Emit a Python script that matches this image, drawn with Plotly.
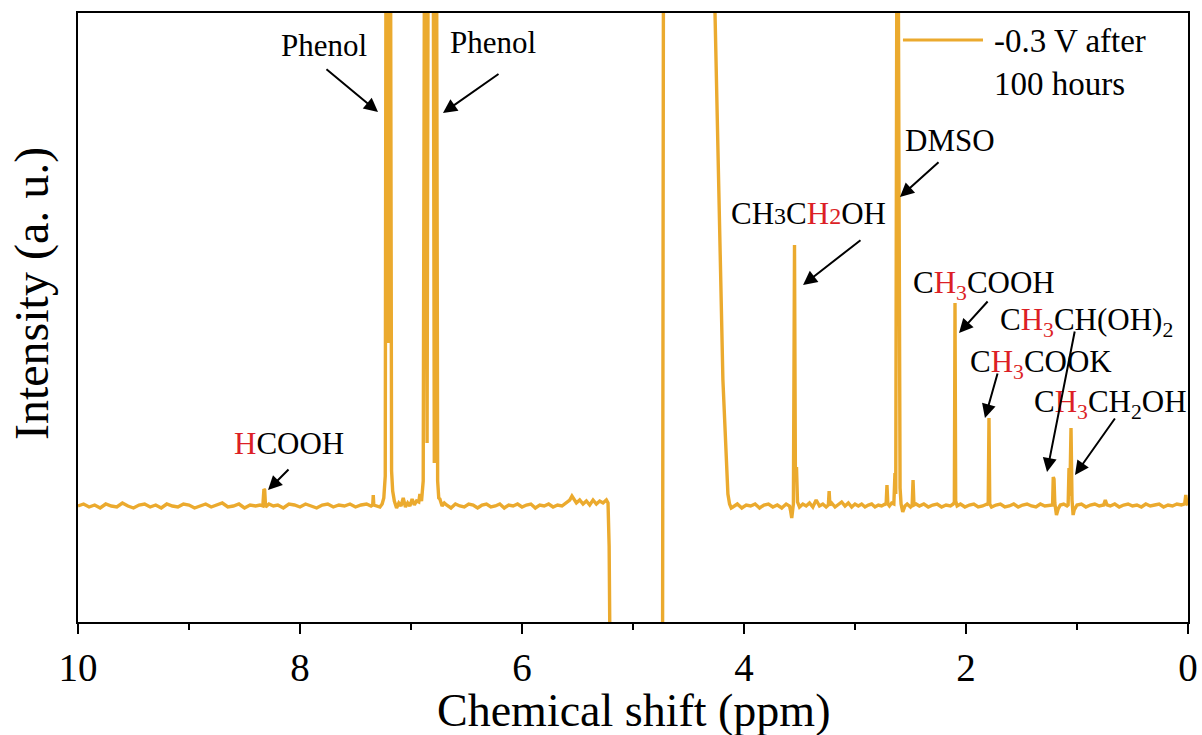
import plotly.graph_objects as go

# 1H NMR spectrum, -0.3 V after 100 hours (intensity in arbitrary units, baseline = 0)
shift_a = [10.00, 9.95, 9.90, 9.85, 9.80, 9.75, 9.70, 9.65, 9.60, 9.55, 9.50, 9.45,
           9.40, 9.35, 9.30, 9.25, 9.20, 9.15, 9.10, 9.05, 9.00, 8.95, 8.90, 8.85,
           8.80, 8.75, 8.70, 8.65, 8.60, 8.55, 8.50, 8.45, 8.40, 8.36]
inten_a = [0.00, 0.02, -0.01, 0.01, -0.02, 0.02, 0.00, -0.01, 0.03, 0.00, -0.02, 0.01,
           0.02, -0.01, 0.01, -0.02, 0.02, 0.00, -0.01, 0.02, 0.01, -0.02, 0.00, 0.02,
           -0.01, 0.01, 0.03, -0.01, 0.00, 0.02, -0.02, 0.01, 0.00, 0.01]

# HCOOH region
shift_b = [8.335, 8.325, 8.318, 8.31, 8.28, 8.24, 8.20, 8.15, 8.10, 8.05, 8.00, 7.95,
           7.90, 7.85, 7.80, 7.75, 7.70, 7.65, 7.60, 7.55, 7.50, 7.45, 7.40, 7.36]
inten_b = [0.00, 0.17, 0.16, -0.01, 0.02, 0.00, 0.01, -0.02, 0.02, 0.01, -0.01, 0.02,
           0.00, -0.02, 0.01, 0.02, -0.01, 0.01, 0.00, 0.02, -0.01, 0.01, 0.02, 0.00]

# phenol multiplets
shift_c = [7.345, 7.34, 7.335, 7.31, 7.28, 7.26, 7.245, 7.232, 7.225, 7.215, 7.205, 7.195,
           7.185, 7.175, 7.165, 7.15, 7.13, 7.11, 7.09, 7.07, 7.05, 7.03, 7.01, 6.99,
           6.97, 6.95, 6.93, 6.92, 6.905, 6.89, 6.878, 6.868, 6.855, 6.845, 6.83, 6.815,
           6.80, 6.79, 6.78, 6.77, 6.76, 6.75, 6.74, 6.72, 6.70]
inten_c = [0.01, 0.11, 0.01, 0.00, -0.01, 0.02, 0.08, 0.30, 6.00, 6.00, 1.63, 6.00,
           6.00, 0.35, 0.15, 0.05, -0.02, 0.03, 0.00, 0.08, -0.01, 0.03, 0.00, 0.07,
           0.01, 0.05, 0.04, 0.12, 0.05, 0.25, 6.00, 6.00, 0.63, 6.00, 6.00, 6.00,
           6.00, 0.43, 6.00, 6.00, 0.25, 0.08, 0.07, 0.00, 0.03]

# flat stretch up to the water signal
shift_d = [6.68, 6.64, 6.60, 6.56, 6.52, 6.48, 6.44, 6.40, 6.36, 6.32, 6.28, 6.24,
           6.20, 6.16, 6.12, 6.08, 6.04, 6.00, 5.96, 5.92, 5.88, 5.84, 5.80, 5.76,
           5.72, 5.68, 5.64, 5.60, 5.57, 5.55, 5.53, 5.51, 5.48, 5.45, 5.42, 5.39,
           5.36, 5.33, 5.30, 5.27, 5.24, 5.225, 5.215, 5.20]
inten_d = [0.01, -0.02, 0.02, 0.00, -0.01, 0.02, 0.01, -0.02, 0.01, 0.02, -0.01, 0.00,
           0.02, -0.02, 0.01, 0.00, 0.02, -0.01, 0.01, 0.02, -0.02, 0.01, 0.00, 0.02,
           -0.01, 0.01, 0.00, 0.03, 0.06, 0.10, 0.06, 0.03, 0.06, 0.02, 0.05, 0.01,
           0.06, 0.02, 0.05, 0.03, 0.06, 0.03, -0.40, -2.50]

# suppressed water signal (dispersive, off scale)
shift_e = [4.735, 4.725, 4.50, 4.28, 4.19, 4.16, 4.145, 4.13, 4.115]
inten_e = [-2.50, 6.00, 6.00, 5.90, 1.26, 0.45, 0.12, 0.02, -0.02]

# ethanol CH2, DMSO and neighbours
shift_f = [4.10, 4.06, 4.02, 3.98, 3.94, 3.90, 3.86, 3.82, 3.78, 3.74, 3.70, 3.66,
           3.62, 3.59, 3.58, 3.57, 3.555, 3.545, 3.537, 3.527, 3.518, 3.50, 3.47, 3.44,
           3.41, 3.38, 3.35, 3.32, 3.29, 3.26, 3.24, 3.233, 3.226, 3.21, 3.18, 3.15,
           3.12, 3.09, 3.06, 3.03, 3.00, 2.97, 2.94, 2.91, 2.88, 2.85, 2.82, 2.79,
           2.76, 2.73, 2.72, 2.712, 2.704, 2.69, 2.67, 2.65, 2.64, 2.633, 2.622, 2.612,
           2.602, 2.594, 2.585, 2.57, 2.55, 2.53, 2.50, 2.485, 2.477, 2.469, 2.45]
inten_f = [-0.01, 0.02, -0.02, 0.01, 0.00, 0.02, -0.02, 0.01, 0.02, -0.01, 0.01, -0.02,
           0.02, 0.00, -0.05, -0.12, 0.02, 2.61, 0.30, 0.39, 0.04, -0.01, 0.02, 0.00,
           0.03, -0.01, 0.06, 0.00, 0.02, -0.01, 0.01, 0.15, 0.01, 0.03, -0.01, 0.02,
           0.04, 0.00, 0.03, -0.01, 0.02, 0.00, 0.02, -0.01, 0.01, 0.02, -0.01, 0.01,
           0.00, 0.02, 0.01, 0.21, 0.02, 0.00, 0.03, 0.02, 0.33, 0.12, 6.00, 6.00,
           0.44, 0.18, 0.02, -0.06, 0.00, 0.02, -0.01, 0.01, 0.26, 0.01, 0.02]

# acetic acid, acetate, acetaldehyde hydrate and ethanol CH3
shift_g = [2.42, 2.38, 2.34, 2.30, 2.26, 2.22, 2.18, 2.14, 2.115, 2.105, 2.099, 2.093,
           2.08, 2.05, 2.01, 1.97, 1.93, 1.89, 1.85, 1.81, 1.80, 1.793, 1.786, 1.77,
           1.73, 1.69, 1.65, 1.61, 1.57, 1.53, 1.49, 1.45, 1.41, 1.37, 1.33, 1.29,
           1.25, 1.22, 1.214, 1.207, 1.200, 1.185, 1.17, 1.15, 1.12, 1.09, 1.08, 1.072,
           1.065, 1.054, 1.045, 1.035, 1.025, 1.00, 0.96, 0.92, 0.88, 0.84, 0.80, 0.76,
           0.745, 0.73, 0.70, 0.66, 0.62, 0.58, 0.54, 0.50, 0.46, 0.42, 0.38, 0.34,
           0.30, 0.26, 0.22, 0.18, 0.14, 0.10, 0.06, 0.03, 0.02, 0.01, 0.00]
inten_g = [0.00, 0.02, -0.01, 0.01, 0.02, -0.01, 0.01, 0.00, 0.02, 0.04, 2.03, 0.05,
           0.00, 0.02, -0.01, 0.01, 0.02, -0.01, 0.00, 0.02, 0.01, 0.88, 0.02, -0.01,
           0.01, 0.02, -0.01, 0.00, 0.02, -0.01, 0.01, 0.02, 0.00, -0.01, 0.02, 0.00,
           0.01, 0.01, 0.29, 0.27, 0.03, -0.09, -0.03, 0.01, 0.02, 0.00, 0.01, 0.38,
           0.10, 0.78, 0.06, -0.09, -0.04, 0.01, 0.02, -0.01, 0.01, 0.02, 0.00, 0.01,
           0.06, 0.01, 0.00, 0.02, -0.01, 0.01, 0.02, 0.00, 0.01, -0.01, 0.02, 0.00,
           0.01, 0.02, -0.01, 0.01, 0.00, 0.02, 0.01, 0.02, 0.11, 0.02, 0.01]

shift = shift_a + shift_b + shift_c + shift_d + shift_e + shift_f + shift_g
inten = inten_a + inten_b + inten_c + inten_d + inten_e + inten_f + inten_g

LINE = "#EBAA2E"
RED = "#DC1F26"
SERIF = "Liberation Serif"


def red(s):
    return f'<span style="color:{RED}">{s}</span>'


small = '<span style="font-size:24px">{}</span>'

# (label, ppm, intensity) for each assignment
labels = [
    ("Phenol", 7.78, 4.61),
    ("Phenol", 6.26, 4.64),
    ("DMSO", 2.14, 3.66),
    ("CH" + small.format("3") + "C" + red("H" + small.format("2")) + "OH", 3.42, 2.93),
    ("C" + red("H<sub>3</sub>") + "COOH", 1.84, 2.21),
    ("C" + red("H<sub>3</sub>") + "CH(OH)<sub>2</sub>", 0.91, 1.84),
    ("C" + red("H<sub>3</sub>") + "COOK", 1.32, 1.42),
    ("C" + red("H<sub>3</sub>") + "CH<sub>2</sub>OH", 0.70, 1.02),
    (red("H") + "COOH", 8.10, 0.63),
]

# arrows: (tail ppm, tail intensity, head ppm, head intensity)
arrows = [
    (7.775, 4.38, 7.297, 3.94),
    (6.198, 4.33, 6.712, 3.93),
    (2.234, 3.45, 2.595, 3.09),
    (2.937, 2.67, 3.468, 2.21),
    (1.793, 2.06, 2.063, 1.73),
    (1.018, 1.76, 1.270, 0.34),
    (1.712, 1.34, 1.829, 0.88),
    (0.649, 0.89, 1.018, 0.31),
    (8.090, 0.38, 8.288, 0.16),
]

fig = go.Figure()
fig.add_trace(go.Scatter(
    x=shift, y=inten, mode="lines",
    line=dict(color=LINE, width=3.4),
    name="-0.3 V after 100 hours", showlegend=False,
))

annotations = []
for text, xx, yy in labels:
    annotations.append(dict(
        x=xx, y=yy, xref="x", yref="y", text=text, showarrow=False,
        font=dict(family=SERIF, size=31, color="black"),
        xanchor="center", yanchor="middle",
    ))
for tx, ty, hx, hy in arrows:
    annotations.append(dict(
        x=hx, y=hy, ax=tx, ay=ty, xref="x", yref="y", axref="x", ayref="y",
        text="", showarrow=True, arrowhead=2, arrowsize=1.4, arrowwidth=2,
        arrowcolor="black", standoff=0, startstandoff=0,
    ))

# axis titles
annotations.append(dict(
    x=-0.0414, y=0.5386, xref="paper", yref="paper", text="Intensity (a. u.)",
    textangle=-90, showarrow=False, xanchor="center", yanchor="middle",
    font=dict(family=SERIF, size=48, color="black"),
))
annotations.append(dict(
    x=0.5, y=-0.1445, xref="paper", yref="paper", text="Chemical shift (ppm)",
    showarrow=False, xanchor="center", yanchor="middle",
    font=dict(family=SERIF, size=46, color="black"),
))
# legend entry
annotations.append(dict(
    x=0.8234, y=0.9187, xref="paper", yref="paper", text="-0.3 V after<br>100 hours",
    showarrow=False, xanchor="left", yanchor="middle", align="left",
    font=dict(family=SERIF, size=33, color="black"),
))

fig.update_layout(
    width=1202, height=735,
    margin=dict(l=78, r=14, t=13, b=113, autoexpand=False),
    paper_bgcolor="white", plot_bgcolor="white",
    font=dict(family=SERIF, color="black"),
    showlegend=False,
    annotations=annotations,
    shapes=[dict(type="line", xref="paper", yref="paper",
                 x0=0.7432, x1=0.8153, y0=0.9557, y1=0.9557,
                 line=dict(color=LINE, width=3))],
    xaxis=dict(
        range=[10, 0], dtick=2, tick0=0, automargin=False,
        showline=True, linecolor="black", linewidth=2, mirror=True,
        ticks="outside", ticklen=10, tickwidth=2, tickcolor="black",
        tickfont=dict(family=SERIF, size=39, color="black"),
        minor=dict(ticks="outside", ticklen=6, tickwidth=2, tickcolor="black",
                   dtick=1, tick0=0, showgrid=False),
        showgrid=False, zeroline=False,
    ),
    yaxis=dict(
        range=[-1.16, 4.93], automargin=False,
        showline=True, linecolor="black", linewidth=2, mirror=True,
        ticks="", showticklabels=False, showgrid=False, zeroline=False,
    ),
)

fig.write_html("out.html")
